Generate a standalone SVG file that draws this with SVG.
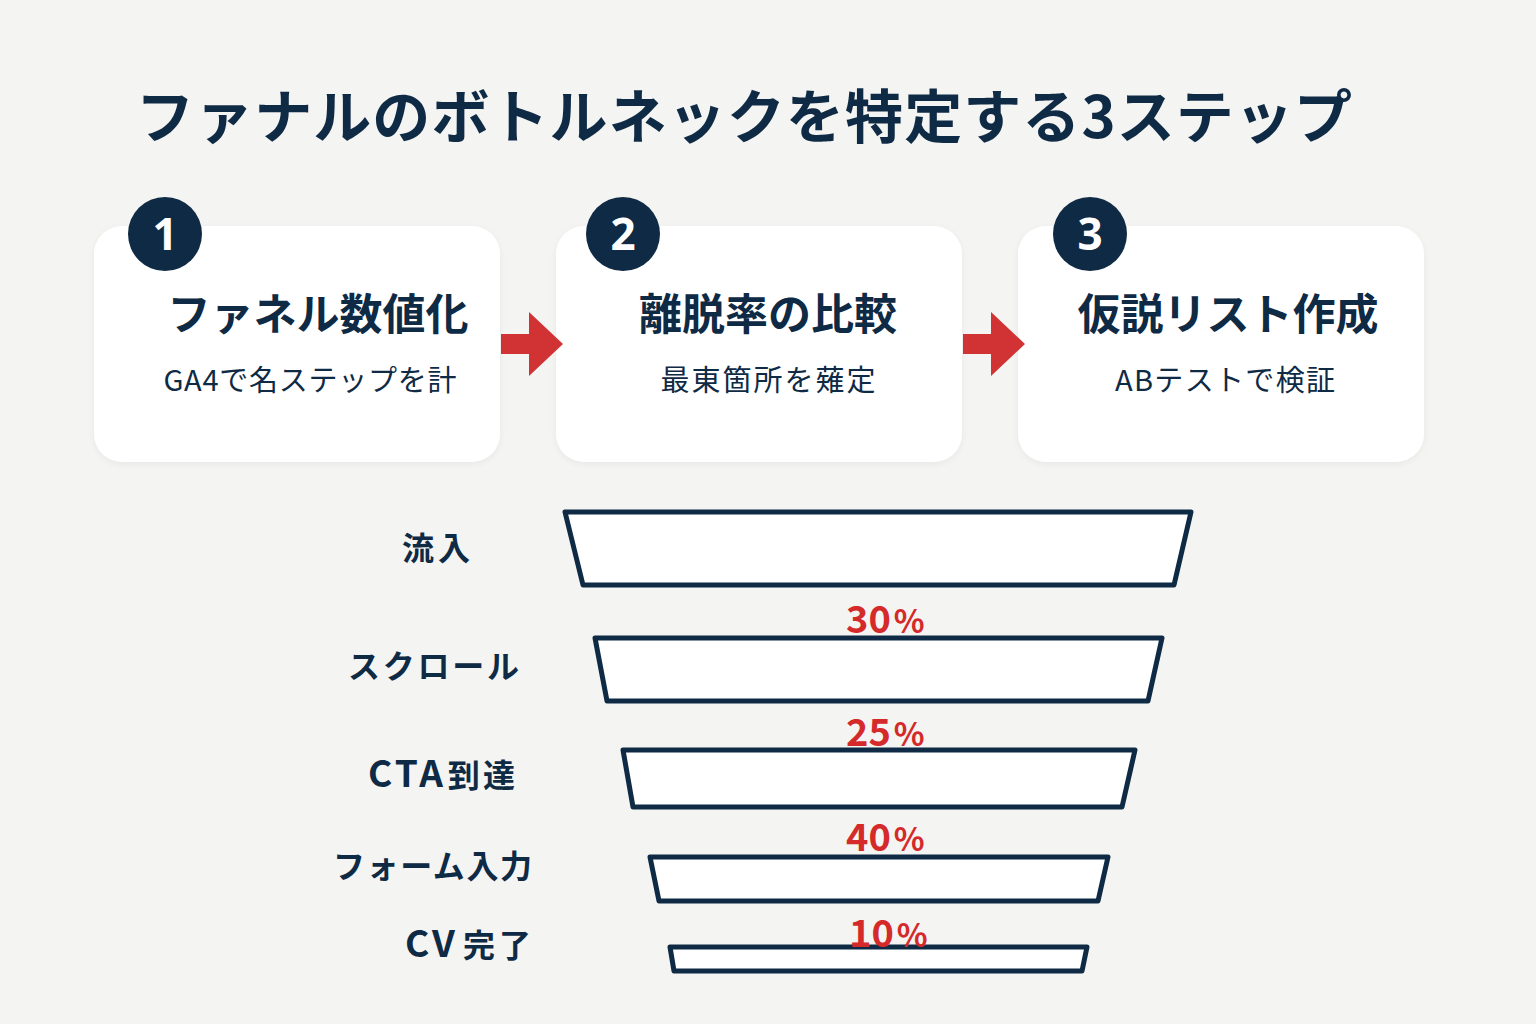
<svg xmlns="http://www.w3.org/2000/svg" width="1536" height="1024" viewBox="0 0 1536 1024">
<style>
text{font-family:"Noto Sans CJK JP","Noto Sans",sans-serif;fill:#0f2a44}
.title{font-size:58px;font-weight:700}
.head{font-size:43px;font-weight:700;text-anchor:middle}
.sub{font-size:29px;font-weight:400;text-anchor:middle}
.num{font-size:44px;font-weight:700;fill:#ffffff;text-anchor:middle;font-family:"Noto Sans","DejaVu Sans",sans-serif}
.card{fill:#ffffff}
.badge{fill:#0f2a44}
.arrow{fill:#d13234}
.stage{fill:#ffffff;stroke:#0f2a44;stroke-width:5;stroke-linejoin:round}
.lbl{font-size:32px;font-weight:700}
.lat{font-size:37px;font-weight:600;letter-spacing:3px}
.pct{font-size:38px;font-weight:700;fill:#d42a2a}
.ps{font-size:32px}
</style>
<defs>
<filter id="sh" x="-5%" y="-5%" width="110%" height="115%">
<feDropShadow dx="0" dy="2" stdDeviation="3" flood-color="#000" flood-opacity="0.05"/>
</filter>
</defs>
<rect width="1536" height="1024" fill="#f4f4f2"/>
<text class="title" x="136" y="138" textLength="1216" lengthAdjust="spacing">ファナルのボトルネックを特定する3ステップ</text>

<g id="step1">
<rect class="card" x="94" y="226" width="406" height="236" rx="28" filter="url(#sh)"/>
<circle class="badge" cx="165" cy="234" r="37"/>
<text class="num" x="165" y="250">1</text>
<text class="head" x="318" y="330">ファネル数値化</text>
<text class="sub" x="310" y="391" textLength="293" lengthAdjust="spacing">GA4で名ステップを計</text>
</g>
<g id="step2">
<rect class="card" x="556" y="226" width="406" height="236" rx="28" filter="url(#sh)"/>
<circle class="badge" cx="623" cy="234" r="37"/>
<text class="num" x="623" y="250">2</text>
<text class="head" x="768" y="330">離脱率の比較</text>
<text class="sub" x="768" y="391" textLength="215" lengthAdjust="spacing">最東箇所を薙定</text>
</g>
<g id="step3">
<rect class="card" x="1018" y="226" width="406" height="236" rx="28" filter="url(#sh)"/>
<circle class="badge" cx="1090" cy="234" r="37"/>
<text class="num" x="1090" y="250">3</text>
<text class="head" x="1228" y="330">仮説リスト作成</text>
<text class="sub" x="1225" y="391" textLength="220" lengthAdjust="spacing">ABテストで検証</text>
</g>

<g id="connectors">
<polygon class="arrow" points="501,334 529,334 529,312 563,344 529,376 529,354 501,354"/>
<polygon class="arrow" points="963,334 991,334 991,312 1025,344 991,376 991,354 963,354"/>
</g>

<g id="funnel-inflow">
<polygon class="stage" points="565,512 1191,512 1174,585 583,585"/>
<text class="lbl" x="402" y="560" textLength="68" lengthAdjust="spacing">流入</text>
</g>
<g id="funnel-scroll">
<polygon class="stage" points="595,638 1162,638 1148,701 607,701"/>
<text class="lbl" x="348" y="678" textLength="171" lengthAdjust="spacing">スクロール</text>
</g>
<g id="funnel-cta">
<polygon class="stage" points="623,750 1135,750 1122,807 633,807"/>
<text class="lbl" x="368" y="787"><tspan class="lat">CTA</tspan><tspan dx="2">到</tspan><tspan dx="3">達</tspan></text>
</g>
<g id="funnel-form">
<polygon class="stage" points="650,857 1108,857 1098,901 659,901"/>
<text class="lbl" x="333" y="878" textLength="199" lengthAdjust="spacing">フォーム入力</text>
</g>
<g id="funnel-cv">
<polygon class="stage" points="670,947 1087,947 1082,971 674,971"/>
<text class="lbl" x="405" y="957"><tspan class="lat">CV</tspan><tspan dx="5">完</tspan><tspan dx="4">了</tspan></text>
</g>
<g id="rates">
<text class="pct" x="846" y="633">30<tspan class="ps" dx="3">%</tspan></text>
<text class="pct" x="846" y="746">25<tspan class="ps" dx="3">%</tspan></text>
<text class="pct" x="846" y="851">40<tspan class="ps" dx="3">%</tspan></text>
<text class="pct" x="849" y="947">10<tspan class="ps" dx="3">%</tspan></text>
</g>
</svg>
